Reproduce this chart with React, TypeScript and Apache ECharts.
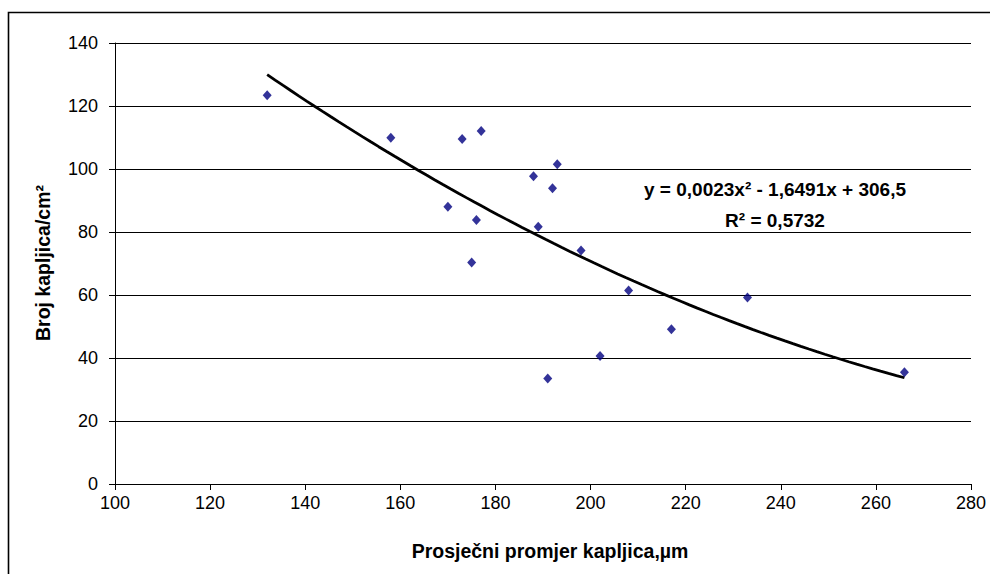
import React, { useEffect, useRef } from "react";
import * as echarts from "echarts";

// Measured data (droplet diameter, µm) and count per cm²
const diameters = [132, 158, 173, 177, 188, 193, 192, 170, 176, 189, 175, 198, 208, 217, 202, 191, 233, 266];
const counts = [123.4, 109.9, 109.5, 112.1, 97.7, 101.5, 93.9, 88.0, 83.8, 81.7, 70.3, 74.1, 61.4, 49.1, 40.6, 33.5, 59.2, 35.5];

const xTicks = { min: 100, max: 280, interval: 20 };
const yTicks = { min: 0, max: 140, interval: 20 };

const equationText = "y = 0,0023x² - 1,6491x + 306,5";
const r2Text = "R² = 0,5732";
const xName = "Prosječni promjer kapljica,µm";
const yName = "Broj kapljica/cm²";

// least-squares quadratic fit (Excel polynomial trendline, order 2)
function quadFit(xs: number[], ys: number[]) {
  const n = xs.length;
  let s0 = n, s1 = 0, s2 = 0, s3 = 0, s4 = 0, t0 = 0, t1 = 0, t2 = 0;
  for (let i = 0; i < n; i++) {
    const x = xs[i], y = ys[i];
    s1 += x; s2 += x * x; s3 += x * x * x; s4 += x * x * x * x;
    t0 += y; t1 += x * y; t2 += x * x * y;
  }
  const M = [
    [s0, s1, s2, t0],
    [s1, s2, s3, t1],
    [s2, s3, s4, t2],
  ];
  for (let c = 0; c < 3; c++) {
    let p = c;
    for (let r = c + 1; r < 3; r++) if (Math.abs(M[r][c]) > Math.abs(M[p][c])) p = r;
    [M[c], M[p]] = [M[p], M[c]];
    for (let r = 0; r < 3; r++) {
      if (r === c) continue;
      const f = M[r][c] / M[c][c];
      for (let k = c; k < 4; k++) M[r][k] -= f * M[c][k];
    }
  }
  const c0 = M[0][3] / M[0][0];
  const c1 = M[1][3] / M[1][1];
  const c2 = M[2][3] / M[2][2];
  return (x: number) => c0 + c1 * x + c2 * x * x;
}

export default function App() {
  const ref = useRef<HTMLDivElement>(null);
  useEffect(() => {
    if (!ref.current) return;
    const chart = echarts.init(ref.current, undefined, { renderer: "svg" });
    const fit = quadFit(diameters, counts);
    const xmin = Math.min(...diameters);
    const xmax = Math.max(...diameters);
    const trend: number[][] = [];
    const steps = 80;
    for (let i = 0; i <= steps; i++) {
      const x = xmin + ((xmax - xmin) * i) / steps;
      trend.push([x, fit(x)]);
    }
    const font = "'Liberation Sans', Arial, sans-serif";
    const boldText = (text: string, x: number, y: number, size: number, rot = 0) => ({
      type: "text",
      x,
      y,
      rotation: rot,
      style: {
        text,
        fontSize: size,
        fontWeight: "bold",
        fontFamily: font,
        fill: "#000",
        textAlign: "center",
        textVerticalAlign: "middle",
        verticalAlign: "middle",
      },
    });
    chart.setOption({
      animation: false,
      backgroundColor: "#ffffff",
      textStyle: { fontFamily: font },
      grid: { left: 115, top: 43, width: 856, height: 441, containLabel: false },
      xAxis: {
        type: "value",
        min: xTicks.min,
        max: xTicks.max,
        interval: xTicks.interval,
        axisLine: { show: true, lineStyle: { color: "#000", width: 1 } },
        axisTick: { show: true, inside: false, length: 6, lineStyle: { color: "#000" } },
        axisLabel: { color: "#000", fontSize: 18, fontFamily: font, margin: 10 },
        splitLine: { show: false },
      },
      yAxis: {
        type: "value",
        min: yTicks.min,
        max: yTicks.max,
        interval: yTicks.interval,
        axisLine: { show: true, lineStyle: { color: "#000", width: 1 } },
        axisTick: { show: true, inside: false, length: 6, lineStyle: { color: "#000" } },
        axisLabel: { color: "#000", fontSize: 18, fontFamily: font, margin: 17 },
        splitLine: { show: true, lineStyle: { color: "#000", width: 1 } },
      },
      series: [
        {
          type: "line",
          data: trend,
          showSymbol: false,
          symbol: "none",
          smooth: false,
          lineStyle: { color: "#000", width: 2.8 },
          z: 2,
        },
        {
          type: "scatter",
          data: diameters.map((d, i) => [d, counts[i]]),
          symbol: "diamond",
          symbolSize: [9, 10],
          itemStyle: { color: "#000080" },
          z: 3,
        },
      ],
      graphic: [
        {
          type: "rect",
          shape: { x: 8.5, y: 12.5, width: 1000, height: 600 },
          style: { fill: "none", stroke: "#000", lineWidth: 1.6 },
          silent: true,
        },
        boldText(equationText, 775, 189, 19),
        boldText(r2Text, 775, 220, 19),
        boldText(xName, 550, 551, 19.5),
        boldText(yName, 43, 263, 19.5, Math.PI / 2),
      ],
    });
    return () => chart.dispose();
  }, []);
  return (
    <div
      ref={ref}
      style={{ position: "fixed", left: 0, top: 0, width: 990, height: 574 }}
    />
  );
}
